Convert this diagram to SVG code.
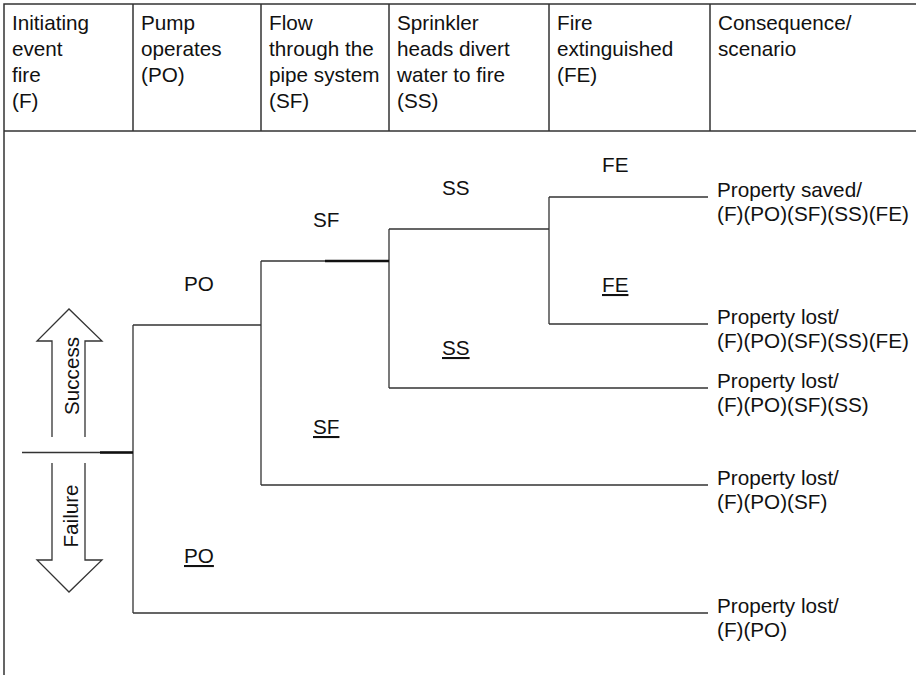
<svg xmlns="http://www.w3.org/2000/svg" width="916" height="675" viewBox="0 0 916 675">
<style>
text{font-family:"Liberation Sans",Arial,sans-serif;font-size:20.7px;fill:#111}
.ln{stroke:#333;stroke-width:1.3;fill:none}
.th{stroke:#111;stroke-width:2.4;fill:none}
.fr{stroke:#333;stroke-width:1.5;fill:none}
.u{text-decoration:underline}
</style>
<rect width="916" height="675" fill="#fff"/>
<g id="frame">
<path class="fr" d="M4,675 V4 H916 M4,131 H916 M133,4 V131 M261,4 V131 M389,4 V131 M549,4 V131 M710,4 V131"/>
</g>
<g id="header">
<text x="12" y="30">Initiating<tspan x="12" dy="26">event</tspan><tspan x="12" dy="26">fire</tspan><tspan x="12" dy="26">(F)</tspan></text>
<text x="141" y="30">Pump<tspan x="141" dy="26">operates</tspan><tspan x="141" dy="26">(PO)</tspan></text>
<text x="269" y="30">Flow<tspan x="269" dy="26">through the</tspan><tspan x="269" dy="26">pipe system</tspan><tspan x="269" dy="26">(SF)</tspan></text>
<text x="397" y="30">Sprinkler<tspan x="397" dy="26">heads divert</tspan><tspan x="397" dy="26">water to fire</tspan><tspan x="397" dy="26">(SS)</tspan></text>
<text x="557" y="30">Fire<tspan x="557" dy="26">extinguished</tspan><tspan x="557" dy="26">(FE)</tspan></text>
<text x="718" y="30">Consequence/<tspan x="718" dy="26">scenario</tspan></text>
</g>
<g id="legend">
<polyline class="ln" points="52,437 52,341 37,341 69,309 102,341 85,341 85,437"/>
<polyline class="ln" points="52,463 52,560 37,560 69,592 102,560 85,560 85,463"/>
<text transform="translate(79,376) rotate(-90)" text-anchor="middle">Success</text>
<text transform="translate(78,516) rotate(-90)" text-anchor="middle">Failure</text>
</g>
<g id="connectors">
<path class="ln" d="M22,452.5 H133 M133,325 V613 M133,325 H261 M133,613 H708 M261,261 V485 M261,261 H389 M261,485 H708 M389,229 V388 M389,229 H549 M389,388 H708 M549,197 V324 M549,197 H708 M549,324 H708"/>
<path class="th" d="M100,452.5 H133 M325,261 H389"/>
</g>
<g id="labels">
<text x="184" y="291">PO</text>
<text class="u" x="184" y="563">PO</text>
<text x="313" y="227">SF</text>
<text class="u" x="313" y="434">SF</text>
<text x="442" y="195">SS</text>
<text class="u" x="442" y="355">SS</text>
<text x="602" y="172">FE</text>
<text class="u" x="602" y="292">FE</text>
</g>
<g id="consequences">
<text x="717" y="197">Property saved/<tspan x="717" dy="24">(F)(PO)(SF)(SS)(FE)</tspan></text>
<text x="717" y="324">Property lost/<tspan x="717" dy="24">(F)(PO)(SF)(SS)(FE)</tspan></text>
<text x="717" y="388">Property lost/<tspan x="717" dy="24">(F)(PO)(SF)(SS)</tspan></text>
<text x="717" y="485">Property lost/<tspan x="717" dy="24">(F)(PO)(SF)</tspan></text>
<text x="717" y="613">Property lost/<tspan x="717" dy="24">(F)(PO)</tspan></text>
</g>
</svg>
